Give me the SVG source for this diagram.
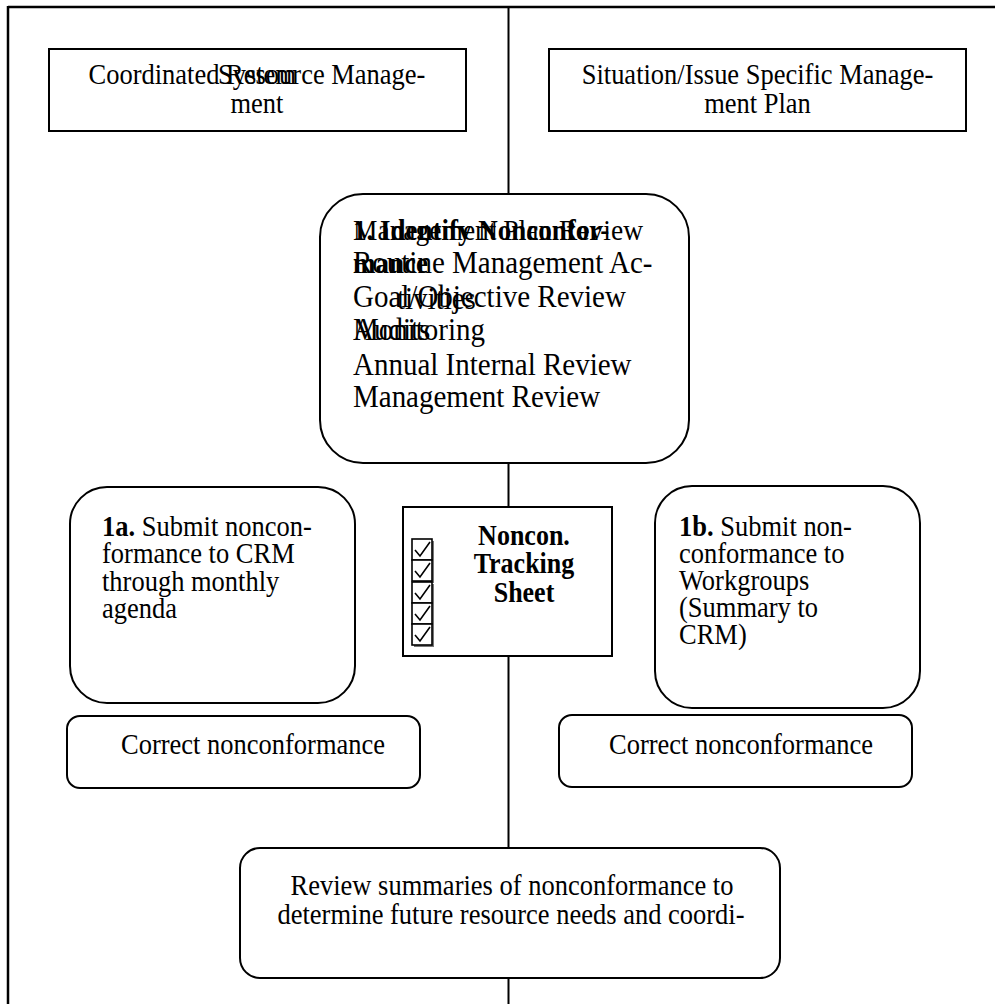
<svg xmlns="http://www.w3.org/2000/svg" width="995" height="1004" viewBox="0 0 995 1004">
  <style>
    .t { font-family: "Liberation Serif", "Times New Roman", serif; font-size: 26.5px; fill: #000; transform-box: fill-box; transform-origin: 50% 78%; transform: scaleY(1.1); }
    .b { font-weight: bold; }
    .big { font-size: 29px; }
    .box { fill: #fff; stroke: #000; stroke-width: 2; }
    .frame { stroke: #000; stroke-width: 2.5; fill: none; }
    .conn { stroke: #000; stroke-width: 2; fill: none; }
  </style>
  <defs>
    <g id="cb">
      <rect x="2" y="2" width="20" height="21" fill="#777"/>
      <rect x="0" y="0" width="20" height="21" fill="#fff" stroke="#000" stroke-width="1.6"/>
      <path d="M3,11 L8,17 L18,3" fill="none" stroke="#000" stroke-width="1.6"/>
    </g>
  </defs>
  <rect width="995" height="1004" fill="#fff"/>

  <g id="frame">
    <line class="frame" x1="8" y1="7" x2="995" y2="7"/>
    <line class="frame" x1="8" y1="6" x2="8" y2="1004"/>
  </g>

  <g id="connectors">
    <line class="conn" x1="508.5" y1="7" x2="508.5" y2="1004"/>
  </g>

  <g id="crm-header">
    <rect class="box" x="49" y="49" width="417" height="82"/>
    <text class="t" x="257" y="84" text-anchor="middle">Coordinated Resource Manage-</text>
    <text class="t" x="257" y="84" text-anchor="middle">System</text>
    <text class="t" x="257" y="113" text-anchor="middle">ment</text>
  </g>

  <g id="issue-header">
    <rect class="box" x="549" y="49" width="417" height="82"/>
    <text class="t" x="757.5" y="84" text-anchor="middle">Situation/Issue Specific Manage-</text>
    <text class="t" x="757.5" y="113" text-anchor="middle">ment Plan</text>
  </g>

  <g id="identify">
    <rect class="box" x="320" y="194" width="369" height="269" rx="43" ry="43"/>
    <text class="t" x="353" y="240" style="font-size:27.5px">Management Plan Review</text>
    <text class="t b" x="353" y="240" style="font-size:27px">1. Identify Nonconfor-</text>
    <text class="t big" x="353" y="273">Routine Management Ac-</text>
    <text class="t b" x="353" y="273" style="font-size:27px">mance</text>
    <text class="t big" x="353" y="307">Goal/Objective Review</text>
    <text class="t big" x="397" y="309">tivities</text>
    <text class="t big" x="353" y="340">Monitoring</text>
    <text class="t big" x="353" y="340">Audits</text>
    <text class="t big" x="353" y="375">Annual Internal Review</text>
    <text class="t big" x="353" y="407">Management Review</text>
  </g>

  <g id="submit-crm">
    <rect class="box" x="70" y="487" width="285" height="216" rx="37" ry="37"/>
    <text class="t" x="102" y="536"><tspan class="b">1a.</tspan> Submit noncon-</text>
    <text class="t" x="102" y="563">formance to CRM</text>
    <text class="t" x="102" y="591">through monthly</text>
    <text class="t" x="102" y="618">agenda</text>
  </g>

  <g id="tracking-sheet">
    <rect class="box" x="403" y="507" width="209" height="149"/>
    <use href="#cb" x="412" y="539"/>
    <use href="#cb" x="412" y="560"/>
    <use href="#cb" x="412" y="582"/>
    <use href="#cb" x="412" y="603"/>
    <use href="#cb" x="412" y="624"/>
    <text class="t b" x="524" y="545" text-anchor="middle" style="font-size:26px">Noncon.</text>
    <text class="t b" x="524" y="573" text-anchor="middle" style="font-size:26px">Tracking</text>
    <text class="t b" x="524" y="602" text-anchor="middle" style="font-size:26px">Sheet</text>
  </g>

  <g id="submit-workgroups">
    <rect class="box" x="655" y="486" width="265" height="222" rx="37" ry="37"/>
    <text class="t" x="679" y="536"><tspan class="b">1b.</tspan> Submit non-</text>
    <text class="t" x="679" y="563">conformance to</text>
    <text class="t" x="679" y="590">Workgroups</text>
    <text class="t" x="679" y="617">(Summary to</text>
    <text class="t" x="679" y="644">CRM)</text>
  </g>

  <g id="correct-left">
    <rect class="box" x="67" y="716" width="353" height="72" rx="13" ry="13"/>
    <text class="t" x="121" y="754">Correct nonconformance</text>
  </g>

  <g id="correct-right">
    <rect class="box" x="559" y="715" width="353" height="72" rx="13" ry="13"/>
    <text class="t" x="609" y="754">Correct nonconformance</text>
  </g>

  <g id="review-summaries">
    <rect class="box" x="240" y="848" width="540" height="130" rx="20" ry="20"/>
    <text class="t" x="512" y="895" text-anchor="middle">Review summaries of nonconformance to</text>
    <text class="t" x="511" y="924" text-anchor="middle">determine future resource needs and coordi-</text>
  </g>
</svg>
